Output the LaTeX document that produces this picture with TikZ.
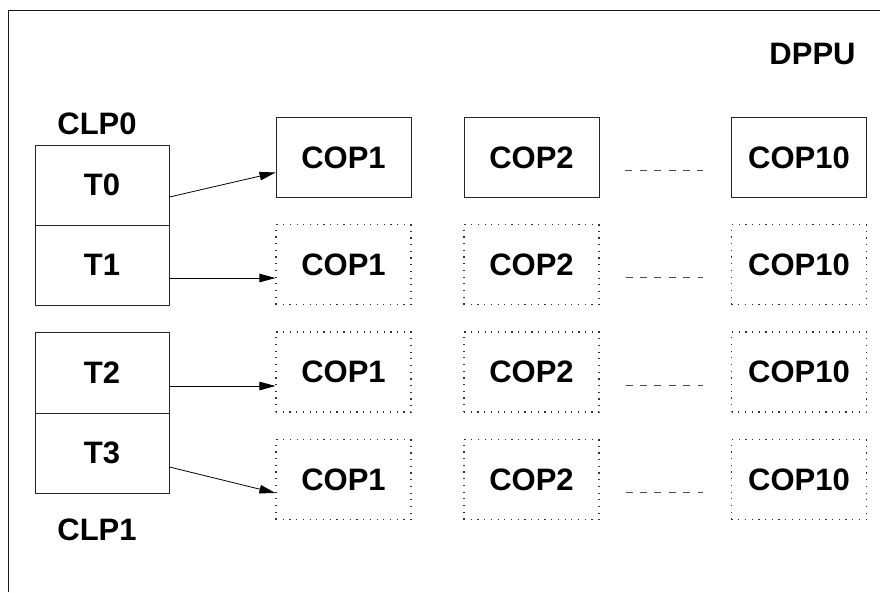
\documentclass[tikz,border=0pt]{standalone}
\usepackage{fontspec}
\setmainfont{Liberation Sans}
\usetikzlibrary{arrows.meta,calc}

\tikzset{
  lbl/.style={font=\fontsize{31}{37}\selectfont\bfseries, inner sep=0pt},
  tbox/.style={lbl, draw=black!85, line width=0.9pt, minimum width=134pt, minimum height=80pt},
  copsolid/.style={lbl, draw=black!85, line width=0.9pt, minimum width=135pt, minimum height=80pt},
  copdotted/.style={lbl, draw=black!80, line width=1.1pt, dash pattern=on 1.2pt off 5.5pt,
                    minimum width=135pt, minimum height=80pt},
  feed/.style={draw=black, line width=0.8pt, -{Triangle[length=16pt,width=8.5pt]}},
  ellipsisline/.style={draw=black!70, line width=1pt, dash pattern=on 7pt off 7.4pt},
}

\begin{document}
\begin{tikzpicture}[x=1pt,y=-1pt]
  \useasboundingbox (0,0) rectangle (880,592);

  % enclosing DPPU frame (top and left sides)
  \draw[line width=1pt, black!90] (8,592) -- (8,10) -- (880,10);
  \node[lbl] (dppu) at (812.5,53.5) {DPPU};

  % thread slots of the two cluster processors
  \node[lbl] (clp0) at (97,123.5) {CLP0};
  \node[tbox] (t0) at (102,185) {T0};
  \node[tbox] (t1) at (102,265) {T1};
  \node[tbox, minimum height=81pt] (t2) at (102,372.5) {T2};
  \node[tbox] (t3) at (102,453) {T3};
  \node[lbl] (clp1) at (97,529.5) {CLP1};

  % coprocessor rows
  \node[copsolid]  (c1r1)  at (343.5,157.5) {COP1};
  \node[copsolid]  (c2r1)  at (531.5,157.5) {COP2};
  \node[copsolid]  (c10r1) at (799,157.5)   {COP10};

  \node[copdotted] (c1r2)  at (343.5,264.5) {COP1};
  \node[copdotted] (c2r2)  at (531.5,264.5) {COP2};
  \node[copdotted] (c10r2) at (799,264.5)   {COP10};

  \node[copdotted] (c1r3)  at (343.5,372)   {COP1};
  \node[copdotted] (c2r3)  at (531.5,372)   {COP2};
  \node[copdotted] (c10r3) at (799,372)     {COP10};

  \node[copdotted] (c1r4)  at (343.5,479.5) {COP1};
  \node[copdotted] (c2r4)  at (531.5,479.5) {COP2};
  \node[copdotted] (c10r4) at (799,479.5)   {COP10};

  % thread to coprocessor links
  \draw[feed] ($(t0.east)+(0,12)$) -- ($(c1r1.west)+(0,15)$);
  \draw[feed] ($(t1.east)+(0,13)$) -- ($(c1r2.west)+(0,13.5)$);
  \draw[feed] ($(t2.east)+(0,13.5)$) -- ($(c1r3.west)+(0,14)$);
  \draw[feed] ($(t3.east)+(0,14)$) -- ($(c1r4.west)+(0,13.5)$);

  % elided coprocessors COP3 .. COP9
  \foreach \r in {1,2,3,4}{
    \draw[ellipsisline] ($(c2r\r.east)+(26,13)$) -- ($(c10r\r.west)+(-28,13)$);
  }
\end{tikzpicture}
\end{document}
